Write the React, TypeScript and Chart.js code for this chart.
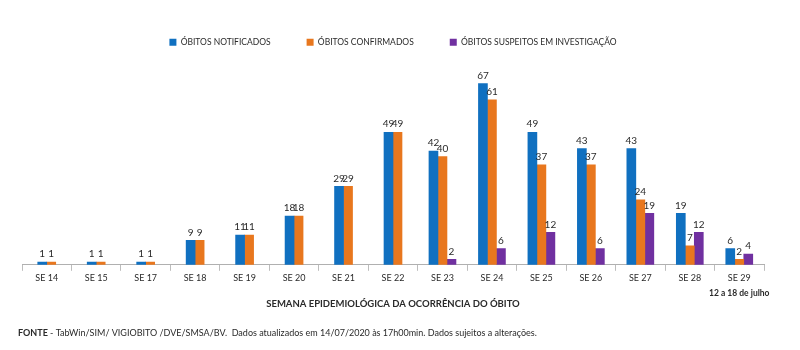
import React, { useEffect, useRef } from "react";
import { Chart, registerables } from "chart.js";

Chart.register(...registerables);

const categories = ["SE 14", "SE 15", "SE 17", "SE 18", "SE 19", "SE 20", "SE 21", "SE 22", "SE 23", "SE 24", "SE 25", "SE 26", "SE 27", "SE 28", "SE 29"];
const notificados = [1, 1, 1, 9, 11, 18, 29, 49, 42, 67, 49, 43, 43, 19, 6];
const confirmados = [1, 1, 1, 9, 11, 18, 29, 49, 40, 61, 37, 37, 24, 7, 2];
const suspeitos = [null, null, null, null, null, null, null, null, 2, 6, 12, 6, 19, 12, 4];
const seriesNames = ["ÓBITOS NOTIFICADOS", "ÓBITOS CONFIRMADOS", "ÓBITOS SUSPEITOS EM INVESTIGAÇÃO"];
const axisTitle = "SEMANA EPIDEMIOLÓGICA DA OCORRÊNCIA DO ÓBITO";
const periodNote = "12 a 18 de julho";
const sourceBold = "FONTE";
const sourceText = " - TabWin/SIM/ VIGIOBITO /DVE/SMSA/BV.  Dados atualizados em 14/07/2020 às 17h00min. Dados sujeitos a alterações.";

const FONT = "Lato, 'Open Sans', sans-serif";
const TEXT = "#2a2a2a";

const labelPlugin = {
  id: "valueLabels",
  afterDatasetsDraw(chart: any) {
    const ctx = chart.ctx;
    ctx.save();
    ctx.font = `10px ${FONT}`;
    ctx.fillStyle = TEXT;
    ctx.textAlign = "center";
    ctx.textBaseline = "bottom";
    chart.data.datasets.forEach((ds: any, di: number) => {
      const meta = chart.getDatasetMeta(di);
      meta.data.forEach((el: any, i: number) => {
        const v = ds.data[i];
        if (v === null || v === undefined) return;
        ctx.fillText(String(v), el.x, el.y - 3);
      });
    });
    ctx.restore();
  },
};

const notesPlugin = {
  id: "notes",
  afterDraw(chart: any) {
    const ctx = chart.ctx;
    const xs = chart.scales.x;
    ctx.save();
    ctx.fillStyle = TEXT;
    ctx.textBaseline = "middle";
    ctx.textAlign = "center";
    ctx.font = `bold 8.5px ${FONT}`;
    const lastX = xs.getPixelForValue(categories.length - 1);
    ctx.fillText(periodNote, lastX, 293);
    ctx.textAlign = "left";
    ctx.font = `bold 9px ${FONT}`;
    ctx.fillText(sourceBold, 18, 333);
    const w = ctx.measureText(sourceBold).width;
    ctx.font = `9px ${FONT}`;
    ctx.fillText(sourceText, 18 + w, 333);
    ctx.restore();
  },
};

export default function App() {
  const ref = useRef<HTMLCanvasElement>(null);
  useEffect(() => {
    document.body.style.margin = "0";
    const chart = new Chart(ref.current as HTMLCanvasElement, {
      type: "bar",
      data: {
        labels: categories,
        datasets: [
          { label: seriesNames[0], data: notificados, backgroundColor: "#1070c0", skipNull: true },
          { label: seriesNames[1], data: confirmados, backgroundColor: "#e8771e", skipNull: true },
          { label: seriesNames[2], data: suspeitos, backgroundColor: "#7030a0", skipNull: true },
        ] as any,
      },
      options: {
        animation: false,
        responsive: false,
        maintainAspectRatio: false,
        layout: { padding: { left: 22, right: 36, top: 2, bottom: 40 } },
        datasets: { bar: { barThickness: 9 } } as any,
        plugins: {
          legend: {
            position: "top",
            labels: {
              boxWidth: 7,
              boxHeight: 7,
              padding: 36,
              color: TEXT,
              font: { family: FONT, size: 8.5 },
            },
          },
          tooltip: { enabled: false },
        },
        scales: {
          x: {
            grid: { drawOnChartArea: false, drawTicks: true, tickLength: 6, color: "#bdbdbd", offset: true },
            border: { color: "#b0b0b0" },
            ticks: { color: TEXT, font: { family: FONT, size: 9 }, padding: 2, maxRotation: 0 },
            title: {
              display: true,
              text: axisTitle,
              color: TEXT,
              font: { family: FONT, size: 9.5, weight: "bold" },
              padding: { top: 13, bottom: 0 },
            },
          },
          y: { display: false, min: 0, max: 77 },
        },
      },
      plugins: [labelPlugin, notesPlugin],
    });
    return () => chart.destroy();
  }, []);
  return (
    <div style={{ position: "fixed", left: 0, top: 0, width: 800, height: 350, background: "#fff" }}>
      <canvas ref={ref} width={800} height={350} />
    </div>
  );
}
